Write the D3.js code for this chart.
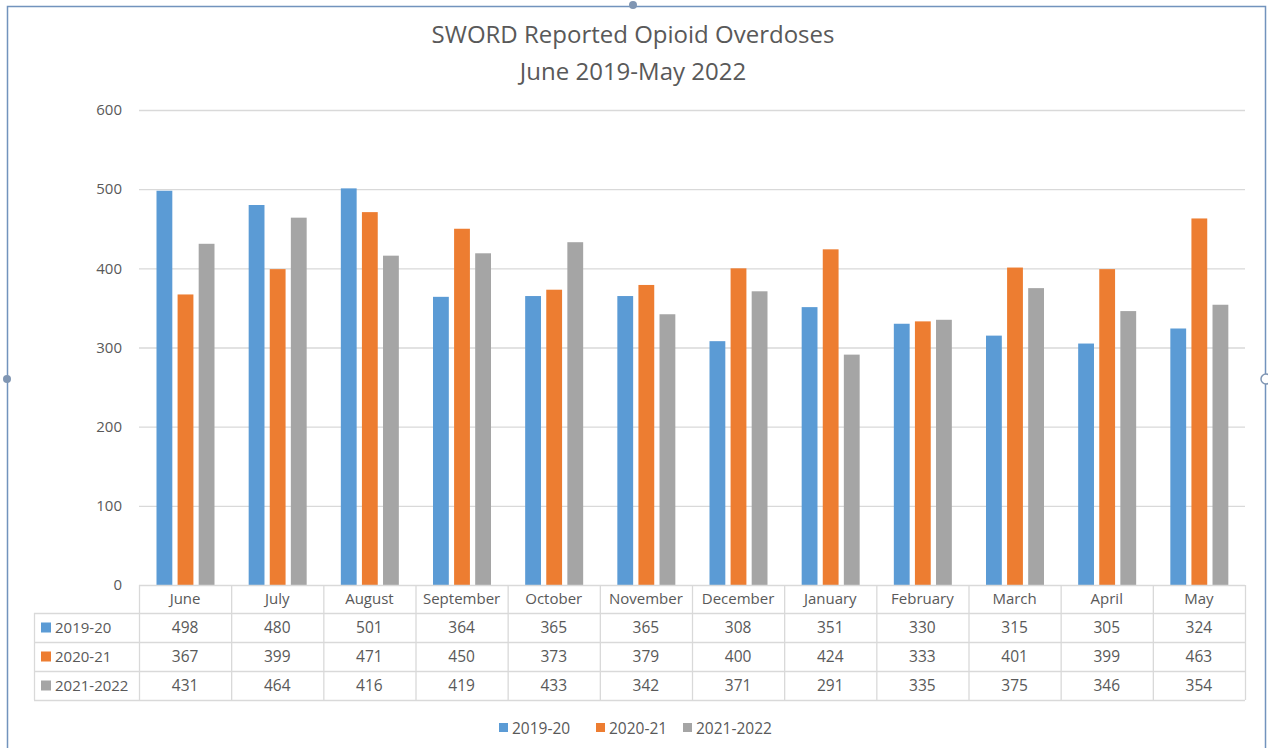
<!DOCTYPE html>
<html><head><meta charset="utf-8">
<script src="https://cdn.jsdelivr.net/npm/d3@7"></script>
<style>
html,body{margin:0;padding:0;background:#fff;}
text{font-family:"Open Sans","Lato",sans-serif;fill:#595959;}
</style></head>
<body>
<svg id="chart" width="1268" height="748"></svg>
<script>
const months = ["June","July","August","September","October","November","December","January","February","March","April","May"];
const seriesNames = ["2019-20","2020-21","2021-2022"];
const s2019 = [498,480,501,364,365,365,308,351,330,315,305,324];
const s2020 = [367,399,471,450,373,379,400,424,333,401,399,463];
const s2021 = [431,464,416,419,433,342,371,291,335,375,346,354];
const yTicks = [0,100,200,300,400,500,600];
const colors = ["#5B9BD5","#ED7D31","#A5A5A5"];
const seriesValues = [s2019,s2020,s2021];

const svg = d3.select("#chart");
// frame
svg.append("rect").attr("x",7.5).attr("y",6.5).attr("width",1258).attr("height",760)
  .attr("fill","#fff").attr("stroke","#7293BD").attr("stroke-width",1.5);
svg.append("circle").attr("cx",633).attr("cy",5).attr("r",4).attr("fill","#8096B3");
svg.append("circle").attr("cx",7).attr("cy",379).attr("r",4).attr("fill","#8096B3");
svg.append("circle").attr("cx",1266).attr("cy",379).attr("r",5).attr("fill","#fff").attr("stroke","#8096B3").attr("stroke-width",1.5);

// title
svg.append("text").attr("x",633).attr("y",43).attr("text-anchor","middle").attr("font-size",24).text("SWORD Reported Opioid Overdoses");
svg.append("text").attr("x",633).attr("y",80).attr("text-anchor","middle").attr("font-size",24).text("June 2019-May 2022");

const x0 = d3.scaleBand().domain(months).range([139,1245]);
const x1 = d3.scaleBand().domain(seriesNames).range([17.5,75.5]).paddingInner(0.25);
const y = d3.scaleLinear().domain([0,600]).range([585,110]);

// gridlines
svg.append("g").selectAll("line").data(yTicks.filter(d=>d>0)).join("line")
  .attr("x1",139).attr("x2",1245).attr("y1",d=>y(d)+0.5).attr("y2",d=>y(d)+0.5)
  .attr("stroke","#D9D9D9").attr("stroke-width",1.3);
// y axis labels
const yAxis = d3.axisLeft(y).tickValues(yTicks).tickSize(0).tickPadding(0);
const gy = svg.append("g").attr("transform","translate(122,0)").call(yAxis);
gy.select(".domain").remove();
gy.selectAll("text").attr("font-size",15).attr("fill","#595959").attr("font-family","Open Sans, Lato, sans-serif");

// bars
const data = months.map((m,i)=>({m, vals: seriesNames.map((s,j)=>({s, j, v: seriesValues[j][i]}))}));
svg.append("g").selectAll("g").data(data).join("g")
  .attr("transform",d=>`translate(${x0(d.m)},0)`)
  .selectAll("rect").data(d=>d.vals).join("rect")
  .attr("x",d=>x1(d.s)).attr("width",x1.bandwidth())
  .attr("y",d=>y(d.v)).attr("height",d=>y(0)-y(d.v))
  .attr("fill",d=>colors[d.j]);

// data table
const tbl = svg.append("g");
const rowY = [585,613,642,671,700];
const lineColor = "#D9D9D9";
tbl.append("line").attr("x1",139).attr("x2",1245).attr("y1",585.5).attr("y2",585.5).attr("stroke",lineColor).attr("stroke-width",1.3);
rowY.slice(1).forEach(yy=>{
  tbl.append("line").attr("x1",34).attr("x2",1245).attr("y1",yy+0.5).attr("y2",yy+0.5).attr("stroke",lineColor).attr("stroke-width",1.3);
});
const colX = months.map(m=>x0(m)).concat([1245]);
colX.forEach(xx=>{
  tbl.append("line").attr("x1",xx+0.5).attr("x2",xx+0.5).attr("y1",585).attr("y2",700).attr("stroke",lineColor).attr("stroke-width",1.3);
});
tbl.append("line").attr("x1",34.5).attr("x2",34.5).attr("y1",613).attr("y2",700).attr("stroke",lineColor).attr("stroke-width",1.3);
tbl.selectAll("text.h").data(months).join("text").attr("class","h")
  .attr("x",d=>x0(d)+x0.bandwidth()/2).attr("y",604).attr("text-anchor","middle").attr("font-size",15).text(d=>d);
seriesNames.forEach((s,j)=>{
  const cy = (rowY[j+1]+rowY[j+2])/2;
  tbl.append("rect").attr("x",41).attr("y",cy-5).attr("width",10).attr("height",10).attr("fill",colors[j]);
  tbl.append("text").attr("x",55).attr("y",cy+5.5).attr("font-size",15).text(s);
  tbl.selectAll(null).data(seriesValues[j]).join("text")
    .attr("x",(d,i)=>x0(months[i])+x0.bandwidth()/2).attr("y",cy+5.5)
    .attr("text-anchor","middle").attr("font-size",15.5).text(d=>d);
});

// legend
const legX = [499,596,683];
const lg = svg.append("g");
seriesNames.forEach((s,j)=>{
  lg.append("rect").attr("x",legX[j]).attr("y",723).attr("width",9).attr("height",9).attr("fill",colors[j]);
  lg.append("text").attr("x",legX[j]+13).attr("y",733.5).attr("font-size",15.5).text(s);
});
</script>
</body></html>
